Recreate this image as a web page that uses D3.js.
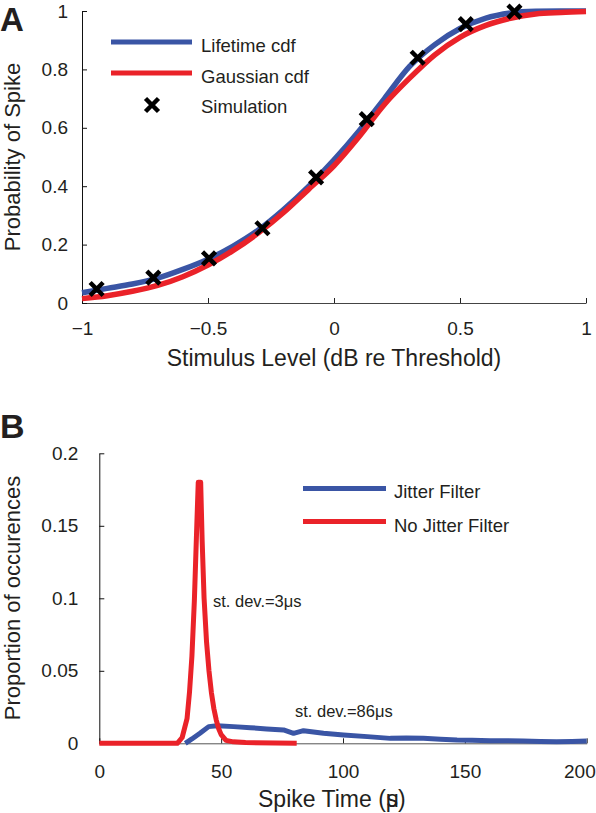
<!DOCTYPE html>
<html><head><meta charset="utf-8">
<script src="https://cdn.jsdelivr.net/npm/d3@7"></script>
<style>
body{margin:0;background:#fff}
svg{display:block}
text{font-family:"Liberation Sans",Arial,Helvetica,sans-serif;fill:#231f20}
</style>
</head><body>
<svg id="c" width="596" height="813"></svg>
<script>
// ---- Panel A data ----
const levelX       = [-1,-0.9,-0.8,-0.7,-0.6,-0.5,-0.4,-0.3,-0.2,-0.1,0,0.1,0.2,0.3,0.4,0.5,0.6,0.7,0.8,0.9,1];
const lifetimeCdf  = [0.035,0.05,0.065,0.085,0.115,0.15,0.195,0.25,0.32,0.40,0.49,0.59,0.70,0.81,0.885,0.94,0.975,0.993,0.999,1.0,1.0];
const gaussianCdf  = [0.015,0.025,0.04,0.06,0.09,0.13,0.18,0.24,0.31,0.39,0.47,0.57,0.68,0.77,0.85,0.91,0.95,0.975,0.99,0.995,0.998];
const simLevel     = [-0.942,-0.717,-0.496,-0.284,-0.071,0.13,0.332,0.523,0.716];
const simProb      = [0.048,0.087,0.153,0.256,0.43,0.63,0.84,0.955,0.998];
const xTicksA      = [-1,-0.5,0,0.5,1];
const yTicksA      = [0,0.2,0.4,0.6,0.8,1];
const legendA      = ["Lifetime cdf","Gaussian cdf","Simulation"];

// ---- Panel B data ----
const timeNoJitter = [0,32,34,36,37,38,39,40,40.6,41.6,42.2,43,44,45,46,47,48,49,50,52,55,60,81];
const propNoJitter = [0,0,0.004,0.017,0.035,0.06,0.098,0.15,0.18,0.18,0.14,0.10,0.07,0.05,0.035,0.024,0.016,0.01,0.006,0.002,0.001,0.0005,0];
const timeJitter   = [35.3,38,41.3,44.9,48.3,55.1,62,68.7,75.6,79.7,83.8,92,100.2,110,119.4,126,133,140,146.8,153,160.4,167,174,181,187.7,194,200];
const propJitter   = [0,0.003,0.0069,0.0115,0.0121,0.0115,0.0108,0.0099,0.0092,0.0069,0.0087,0.0069,0.0057,0.0046,0.0034,0.0036,0.0034,0.0028,0.0023,0.0021,0.0018,0.0017,0.0016,0.0013,0.0011,0.0013,0.0016];
const xTicksB      = [0,50,100,150,200];
const yTicksB      = [0,0.05,0.1,0.15,0.2];
const legendB      = ["Jitter Filter","No Jitter Filter"];
const annotB       = ["st. dev.=3\u03bcs","st. dev.=86\u03bcs"];

const BLUE = "#3a55a5", RED = "#ea2229";
const svg = d3.select("#c");
const fmt = v => (v < 0 ? "\u2212" : "") + Math.abs(v);

// ================= Panel A =================
const xA = d3.scaleLinear().domain([-1,1]).range([82,586]);
const yA = d3.scaleLinear().domain([0,1]).range([303,11]);

const gA = svg.append("g");
gA.append("g").attr("transform","translate(0,303)")
  .call(d3.axisBottom(xA).tickValues(xTicksA).tickFormat(fmt).tickSizeInner(-5).tickSizeOuter(0).tickPadding(19))
  .call(g=>{g.select(".domain").attr("stroke","#444");g.selectAll("line").attr("stroke","#222");g.selectAll("text").attr("font-size",19).attr("font-family","Liberation Sans,Arial,sans-serif").attr("fill","#231f20");});
gA.append("g").attr("transform","translate(82,0)")
  .call(d3.axisLeft(yA).tickValues(yTicksA).tickFormat(fmt).tickSizeInner(-5).tickSizeOuter(0).tickPadding(14))
  .call(g=>{g.select(".domain").attr("stroke","#111");g.selectAll("line").attr("stroke","#111");g.selectAll("text").attr("font-size",19).attr("font-family","Liberation Sans,Arial,sans-serif").attr("fill","#231f20");});

const lineA = d3.line().x(d=>xA(d[0])).y(d=>yA(d[1])).curve(d3.curveMonotoneX);
gA.append("path").datum(levelX.map((x,i)=>[x,lifetimeCdf[i]]))
  .attr("d",lineA).attr("fill","none").attr("stroke",BLUE).attr("stroke-width",5.5);
gA.append("path").datum(levelX.map((x,i)=>[x,gaussianCdf[i]]))
  .attr("d",lineA).attr("fill","none").attr("stroke",RED).attr("stroke-width",5.5);

function xMark(g,cx,cy){
  const s=6.5;
  g.append("path").attr("d",`M${cx-s},${cy-s}L${cx+s},${cy+s}M${cx-s},${cy+s}L${cx+s},${cy-s}`)
   .attr("stroke","#000").attr("stroke-width",4.5).attr("fill","none");
}
simLevel.forEach((x,i)=>xMark(gA,xA(x),yA(simProb[i])));

// legend A
gA.append("line").attr("x1",111).attr("x2",192).attr("y1",42).attr("y2",42).attr("stroke",BLUE).attr("stroke-width",5);
gA.append("line").attr("x1",111).attr("x2",192).attr("y1",73).attr("y2",73).attr("stroke",RED).attr("stroke-width",5);
xMark(gA,152,105);
[51.5,82.5,113].forEach((y,i)=>gA.append("text").attr("x",201).attr("y",y).attr("font-size",18.5).text(legendA[i]));

gA.append("text").attr("x",334).attr("y",366).attr("text-anchor","middle").attr("font-size",23).text("Stimulus Level (dB re Threshold)");
gA.append("text").attr("transform","translate(20,157) rotate(-90)").attr("text-anchor","middle").attr("font-size",22).text("Probability of Spike");
gA.append("text").attr("x",0).attr("y",31).attr("font-size",33).attr("font-weight","bold").attr("fill","#000").text("A");

// ================= Panel B =================
const xB = d3.scaleLinear().domain([0,200]).range([99.3,586.7]);
const yB = d3.scaleLinear().domain([0,0.2]).range([743.3,453.3]);
const gB = svg.append("g");
gB.append("g").attr("transform","translate(0,743.3)")
  .call(d3.axisBottom(xB).tickValues(xTicksB).tickFormat(fmt).tickSizeInner(-5).tickSizeOuter(0).tickPadding(21))
  .call(g=>{g.select(".domain").attr("stroke","#555");g.selectAll("line").attr("stroke","#222");
    g.selectAll("text").attr("font-size",19).attr("font-family","Liberation Sans,Arial,sans-serif").attr("fill","#231f20");
    g.selectAll(".tick").filter(d=>d===200).select("text").attr("text-anchor","end").attr("x",8.5);});
gB.append("g").attr("transform","translate(99.3,0)")
  .call(d3.axisLeft(yB).tickValues(yTicksB).tickFormat(fmt).tickSizeInner(-5).tickSizeOuter(0).tickPadding(21))
  .call(g=>{g.select(".domain").attr("stroke","#111");g.selectAll("line").attr("stroke","#111");g.selectAll("text").attr("font-size",19).attr("font-family","Liberation Sans,Arial,sans-serif").attr("fill","#231f20");});

const lineB = d3.line().x(d=>xB(d[0])).y(d=>yB(d[1]));
gB.append("path").datum(timeJitter.map((t,i)=>[t,propJitter[i]]))
  .attr("d",lineB).attr("fill","none").attr("stroke",BLUE).attr("stroke-width",5).attr("stroke-linejoin","round");
gB.append("path").datum(timeNoJitter.map((t,i)=>[t,propNoJitter[i]]))
  .attr("d",lineB).attr("fill","none").attr("stroke",RED).attr("stroke-width",5).attr("stroke-linejoin","round");

// legend B
gB.append("line").attr("x1",303).attr("x2",386).attr("y1",488.5).attr("y2",488.5).attr("stroke",BLUE).attr("stroke-width",5);
gB.append("line").attr("x1",303).attr("x2",386).attr("y1",521.5).attr("y2",521.5).attr("stroke",RED).attr("stroke-width",5);
[498.3,531.7].forEach((y,i)=>gB.append("text").attr("x",394).attr("y",y).attr("font-size",18.5).text(legendB[i]));

gB.append("text").attr("x",213).attr("y",607).attr("font-size",16.5).text(annotB[0]);
gB.append("text").attr("x",295).attr("y",716.5).attr("font-size",16.5).text(annotB[1]);

const xt = gB.append("text").attr("x",258).attr("y",806.5).attr("font-size",23);
xt.append("tspan").text("Spike Time (");
xt.append("tspan").text("\u03bc");
xt.append("tspan").attr("dx","-0.55em").text("s");
xt.append("tspan").text(")");
gB.append("text").attr("transform","translate(20,598) rotate(-90)").attr("text-anchor","middle").attr("font-size",22).text("Proportion of occurences");
gB.append("text").attr("x",0).attr("y",438).attr("font-size",34).attr("font-weight","bold").attr("fill","#000").text("B");
</script>
</body></html>
